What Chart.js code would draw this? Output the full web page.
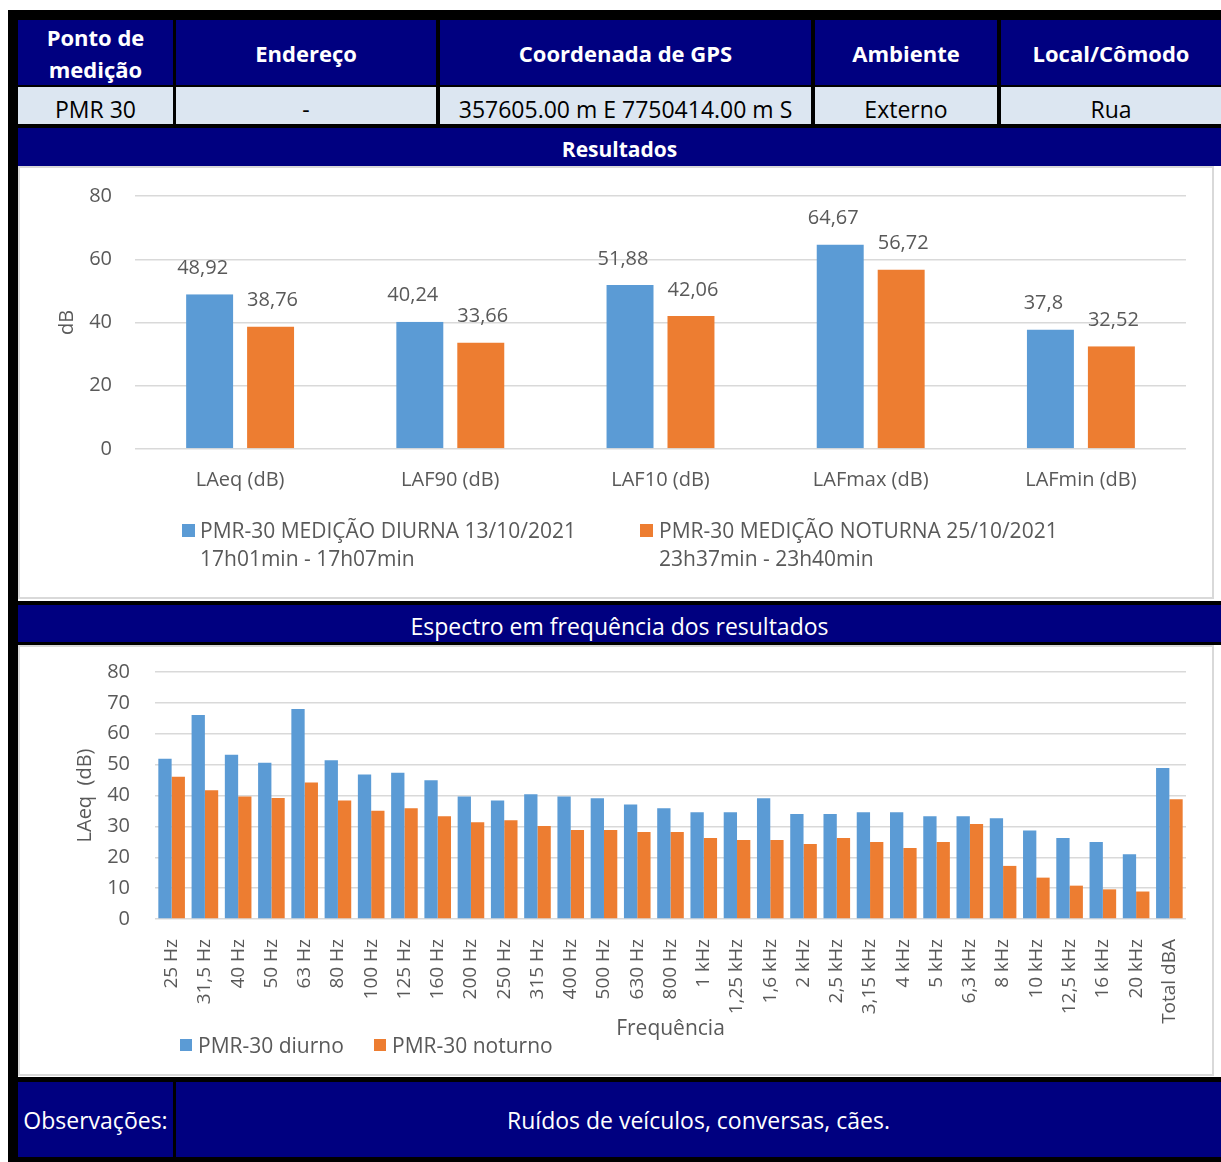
<!DOCTYPE html>
<html lang="pt-BR">
<head>
<meta charset="utf-8">
<title>PMR 30</title>
<script src="https://cdn.jsdelivr.net/npm/chart.js@4.4.1/dist/chart.umd.min.js"></script>
<style>
  body { margin: 0; background: #fff; font-family: 'Open Sans', sans-serif; }
  #page { position: relative; width: 1221px; height: 1162px; overflow: hidden; }
  .frame { position: absolute; left: 8px; top: 10px; width: 1213px; height: 1152px; background: #000; }
  .cell { position: absolute; display: flex; align-items: center; justify-content: center; text-align: center; box-sizing: border-box; }
  .head { top: 20px; height: 65px; background: #000080; color: #fff; font-weight: bold; font-size: 22px; line-height: 32px; }
  .row { top: 87px; height: 37px; background: #dce6f1; color: #000; font-size: 23px; padding-top: 6px; }
  .band { background: #000080; color: #fff; font-size: 23px; }
  .white { position: absolute; left: 18px; width: 1203px; background: #fff; }
  .box { position: absolute; left: 0; top: 0; width: 1196px; box-sizing: border-box; border: 2px solid #d9d9d9; }
  .canvasWrap { position: absolute; left: 0; top: 0; width: 1196px; }
  .legend { position: absolute; color: #595959; font-size: 21px; line-height: 28px; white-space: nowrap; }
  .legend.sq { position: absolute; }
</style>
</head>
<body>
<div id="page">
  <div class="frame"></div>

  <div class="cell head" style="left:18px;width:155px;">Ponto de<br>medição</div>
  <div class="cell head" style="left:176px;width:260px;">Endereço</div>
  <div class="cell head" style="left:440px;width:371px;">Coordenada de GPS</div>
  <div class="cell head" style="left:815px;width:182px;">Ambiente</div>
  <div class="cell head" style="left:1001px;width:220px;">Local/Cômodo</div>

  <div class="cell row" style="left:18px;width:155px;">PMR 30</div>
  <div class="cell row" style="left:176px;width:260px;">-</div>
  <div class="cell row" style="left:440px;width:371px;">357605.00 m E 7750414.00 m S</div>
  <div class="cell row" style="left:815px;width:182px;">Externo</div>
  <div class="cell row" style="left:1001px;width:220px;">Rua</div>

  <div class="cell band" style="left:18px;width:1203px;top:128px;height:38px;font-weight:bold;font-size:21px;padding-top:4px;">Resultados</div>

  <div class="white" style="top:166px;height:435px;">
    <div class="box" style="height:433px;"></div>
    <div class="canvasWrap" style="height:433px;"><canvas id="resultChart"></canvas></div>
  </div>

  <div class="cell band" style="left:18px;width:1203px;top:605px;height:37px;padding-top:4px;">Espectro em frequência dos resultados</div>

  <div class="white" style="top:645px;height:432px;">
    <div class="box" style="height:431px;"></div>
    <div class="canvasWrap" style="height:431px;"><canvas id="spectrumChart"></canvas></div>
  </div>

  <div class="cell band" style="left:18px;width:155px;top:1082px;height:75px;">Observações:</div>
  <div class="cell band" style="left:176px;width:1045px;top:1082px;height:75px;">Ruídos de veículos, conversas, cães.</div>

  <div id="resultLegend"></div>
  <div id="spectrumLegend"></div>
</div>

<script>
// Resultados (dB)
const resultCategories = ['LAeq (dB)', 'LAF90 (dB)', 'LAF10 (dB)', 'LAFmax (dB)', 'LAFmin (dB)'];
const resultDiurno = [48.92, 40.24, 51.88, 64.67, 37.8];
const resultNoturno = [38.76, 33.66, 42.06, 56.72, 32.52];
const resultSeriesNames = [
    ['PMR-30 MEDIÇÃO DIURNA 13/10/2021', '17h01min - 17h07min'],
    ['PMR-30 MEDIÇÃO NOTURNA 25/10/2021', '23h37min - 23h40min']
];
const resultTicks = [0, 20, 40, 60, 80];

// Espectro em frequência
const freqLabels = ['25 Hz', '31,5 Hz', '40 Hz', '50 Hz', '63 Hz', '80 Hz', '100 Hz', '125 Hz', '160 Hz',
    '200 Hz', '250 Hz', '315 Hz', '400 Hz', '500 Hz', '630 Hz', '800 Hz', '1 kHz', '1,25 kHz', '1,6 kHz',
    '2 kHz', '2,5 kHz', '3,15 kHz', '4 kHz', '5 kHz', '6,3 kHz', '8 kHz', '10 kHz', '12,5 kHz', '16 kHz',
    '20 kHz', 'Total dBA'];
const spectrumDiurno = [51.9, 66.1, 53.2, 50.6, 68.0, 51.4, 46.8, 47.4, 44.9, 39.7, 38.4, 40.4, 39.7, 39.1,
    37.1, 35.9, 34.6, 34.6, 39.1, 34.0, 34.0, 34.6, 34.6, 33.3, 33.3, 32.6, 28.7, 26.2, 24.9, 21.0, 48.92];
const spectrumNoturno = [46.1, 41.7, 39.7, 39.2, 44.2, 38.4, 35.1, 35.9, 33.3, 31.3, 32.0, 30.1, 28.8, 28.8,
    28.2, 28.2, 26.2, 25.6, 25.6, 24.3, 26.2, 24.9, 23.0, 24.9, 30.8, 17.2, 13.4, 10.8, 9.6, 8.9, 38.76];
const spectrumSeriesNames = ['PMR-30 diurno', 'PMR-30 noturno'];
const spectrumTicks = [0, 10, 20, 30, 40, 50, 60, 70, 80];

const seriesColors = ['#5b9bd5', '#ed7d31'];
const textColor = '#595959';
const gridColor = '#d9d9d9';
const fontFamily = "'Open Sans', sans-serif";

// draws the value above each bar, with comma as decimal separator
const valueLabels = {
    id: 'valueLabels',
    afterDatasetsDraw(chart) {
        const ctx = chart.ctx;
        const shift = [-7, 2]; // excel puts the labels a bit off-centre
        ctx.save();
        ctx.font = '20px ' + fontFamily;
        ctx.fillStyle = textColor;
        ctx.textAlign = 'center';
        ctx.textBaseline = 'middle';
        chart.data.datasets.forEach((ds, i) => {
            chart.getDatasetMeta(i).data.forEach((bar, j) => {
                ctx.fillText(String(ds.data[j]).replace('.', ','), bar.x + shift[i], bar.y - 26);
            });
        });
        ctx.restore();
    }
};

function yTicks(values) {
    return {
        min: values[0],
        max: values[values.length - 1],
        stepSize: values[1] - values[0]
    };
}

function buildLegend(id, items, pos) {
    const el = document.getElementById(id);
    items.forEach((name, i) => {
        const p = pos[i];
        const lines = Array.isArray(name) ? name : [name];
        el.innerHTML += `<div class="legend" style="left:${p.x}px;top:${p.y}px;">${lines.join('<br>')}</div>`
            + `<div class="legend sq" style="left:${p.sx}px;top:${p.sy}px;width:${p.s}px;height:${p.s}px;background:${seriesColors[i]};"></div>`;
    });
}

Chart.defaults.font.family = fontFamily;
Chart.defaults.color = textColor;

// y grid: invisible tick marks give the gap between labels and plot
// (ticks.padding would also push the plot area down)
function yGrid(gap) {
    return { color: gridColor, lineWidth: 1.5, drawTicks: true, tickLength: gap, tickColor: 'rgba(0,0,0,0)' };
}

const rt = yTicks(resultTicks);
new Chart(document.getElementById('resultChart'), {
    type: 'bar',
    data: {
        labels: resultCategories,
        datasets: [0, 1].map(i => ({
            label: resultSeriesNames[i].join(' '),
            data: i === 0 ? resultDiurno : resultNoturno,
            backgroundColor: seriesColors[i],
            borderColor: 'rgba(0,0,0,0)',
            borderWidth: { left: 7, right: 7, top: 0, bottom: 0 },
            categoryPercentage: 0.58,
            barPercentage: 1
        }))
    },
    options: {
        responsive: true,
        maintainAspectRatio: false,
        animation: false,
        devicePixelRatio: 1,
        layout: { padding: { left: 0, right: 28, top: 30, bottom: 100 } },
        plugins: { legend: { display: false }, tooltip: { enabled: false } },
        scales: {
            x: {
                grid: { display: false },
                border: { display: false },
                ticks: { padding: 11, font: { size: 20 }, color: textColor },
                afterFit: (scale) => { scale.height = 50; }
            },
            y: {
                min: rt.min, max: rt.max,
                ticks: { stepSize: rt.stepSize, padding: 0, font: { size: 20 }, color: textColor },
                grid: yGrid(23),
                border: { display: false },
                title: { display: true, text: 'dB', color: textColor, font: { size: 20 }, padding: { top: 37, bottom: 0 } },
                afterFit: (scale) => { scale.width = 117; }
            }
        }
    },
    plugins: [valueLabels]
});

const st = yTicks(spectrumTicks);
new Chart(document.getElementById('spectrumChart'), {
    type: 'bar',
    data: {
        labels: freqLabels,
        datasets: [0, 1].map(i => ({
            label: spectrumSeriesNames[i],
            data: i === 0 ? spectrumDiurno : spectrumNoturno,
            backgroundColor: seriesColors[i],
            categoryPercentage: 0.8,
            barPercentage: 1
        }))
    },
    options: {
        responsive: true,
        maintainAspectRatio: false,
        animation: false,
        devicePixelRatio: 1,
        layout: { padding: { left: 0, right: 28, top: 27, bottom: 34 } },
        plugins: { legend: { display: false }, tooltip: { enabled: false } },
        scales: {
            x: {
                grid: { display: false },
                border: { display: false },
                ticks: { padding: 12, autoSkip: false, minRotation: 90, maxRotation: 90, font: { size: 19 }, color: textColor },
                title: { display: true, text: 'Frequência', color: textColor, font: { size: 21 }, padding: { top: 0, bottom: 0 } },
                afterFit: (scale) => { scale.height = 123; }
            },
            y: {
                min: st.min, max: st.max,
                ticks: { stepSize: st.stepSize, padding: 0, font: { size: 20 }, color: textColor },
                grid: yGrid(25),
                border: { display: false },
                title: { display: true, text: 'LAeq  (dB)', color: textColor, font: { size: 20 }, padding: { top: 55, bottom: 0 } },
                afterFit: (scale) => { scale.width = 137; }
            }
        }
    }
});

buildLegend('resultLegend', resultSeriesNames, [
    { x: 200, y: 516, sx: 182, sy: 524, s: 13 },
    { x: 659, y: 516, sx: 640, sy: 524, s: 13 }
]);
buildLegend('spectrumLegend', spectrumSeriesNames, [
    { x: 198, y: 1031, sx: 180, sy: 1039, s: 12 },
    { x: 392, y: 1031, sx: 374, sy: 1039, s: 12 }
]);
</script>
</body>
</html>
